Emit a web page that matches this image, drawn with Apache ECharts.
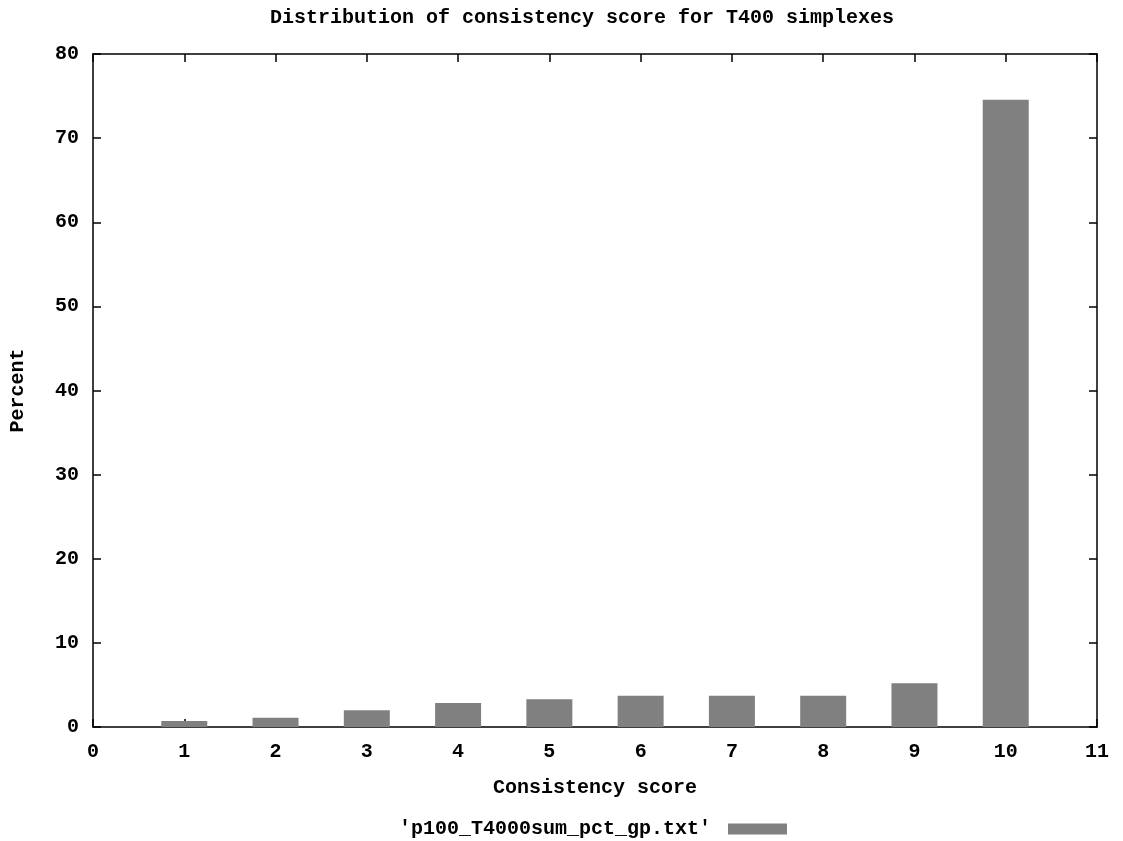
<!DOCTYPE html>
<html>
<head>
<meta charset="utf-8">
<title>Distribution of consistency score for T400 simplexes</title>
<script src="https://cdn.jsdelivr.net/npm/echarts@6/dist/echarts.min.js"></script>
<style>
  html, body { margin: 0; padding: 0; background: #fff; }
  #chart { width: 1123px; height: 841px; }
</style>
</head>
<body>
<div id="chart"></div>
<script>
// consistency scores (x) and percent of simplexes (y)
var scores = [1, 2, 3, 4, 5, 6, 7, 8, 9, 10];
var percents = [0.7, 1.1, 2.0, 2.85, 3.3, 3.7, 3.7, 3.7, 5.2, 74.55];
var seriesName = "'p100_T4000sum_pct_gp.txt'";

var FONT = '"Liberation Mono", "DejaVu Sans Mono", monospace';
var txt = { fontFamily: FONT, fontWeight: 'bold', fontSize: 20, color: '#000' };

var barData = scores.map(function (s, i) { return [s, percents[i]]; });

// frame line + inward ticks, shared by all four sides
var frameLine = { show: true, onZero: false, lineStyle: { color: '#000', width: 1.5 } };
var inTicks = { show: true, inside: true, length: 8, lineStyle: { color: '#000', width: 1.5 } };

var option = {
  animation: false,
  backgroundColor: '#fff',
  textStyle: { fontFamily: FONT },
  title: {
    text: 'Distribution of consistency score for T400 simplexes',
    left: 265,
    top: 3,
    textStyle: txt
  },
  legend: {
    data: [seriesName],
    right: 336,
    bottom: 2,
    padding: 0,
    align: 'right',
    icon: 'rect',
    itemWidth: 59,
    itemHeight: 11,
    formatter: function (n) { return n + ' '; },
    textStyle: txt
  },
  grid: { left: 93, right: 26, top: 54, bottom: 114 },
  xAxis: [
    {
      type: 'value',
      min: 0, max: 11, interval: 1,
      position: 'bottom',
      name: 'Consistency score',
      nameLocation: 'middle',
      nameGap: 51,
      nameTextStyle: txt,
      axisLine: frameLine,
      axisTick: inTicks,
      axisLabel: Object.assign({ margin: 15 }, txt),
      splitLine: { show: false }
    },
    {
      type: 'value',
      min: 0, max: 11, interval: 1,
      position: 'top',
      axisLine: frameLine,
      axisTick: inTicks,
      axisLabel: { show: false },
      splitLine: { show: false }
    }
  ],
  yAxis: [
    {
      type: 'value',
      min: 0, max: 80, interval: 10,
      position: 'left',
      name: 'Percent',
      nameLocation: 'middle',
      nameGap: 65,
      nameRotate: 90,
      nameTextStyle: txt,
      axisLine: frameLine,
      axisTick: inTicks,
      axisLabel: Object.assign({ margin: 14 }, txt),
      splitLine: { show: false }
    },
    {
      type: 'value',
      min: 0, max: 80, interval: 10,
      position: 'right',
      axisLine: frameLine,
      axisTick: inTicks,
      axisLabel: { show: false },
      splitLine: { show: false }
    }
  ],
  series: [
    {
      name: seriesName,
      type: 'bar',
      xAxisIndex: 0,
      yAxisIndex: 0,
      barWidth: 46,
      itemStyle: { color: '#808080' },
      data: barData
    }
  ]
};

var chart = echarts.init(document.getElementById('chart'), null, { renderer: 'canvas' });
chart.setOption(option);
</script>
</body>
</html>
